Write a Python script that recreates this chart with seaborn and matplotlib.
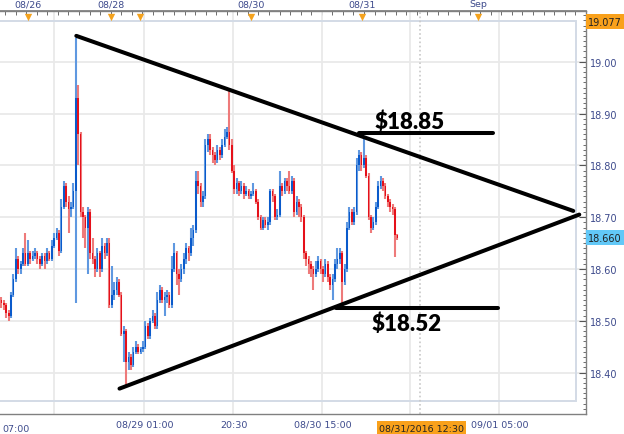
import matplotlib
matplotlib.use('Agg')
import matplotlib.pyplot as plt
import matplotlib.transforms as mtransforms
from matplotlib.patches import Rectangle
from matplotlib.ticker import MultipleLocator, FixedLocator
import seaborn as sns
import numpy as np
import pandas as pd

# 30-minute XAG/USD bars (open = previous close)
first_open = 18.54
closes = [
    18.535, 18.530, 18.515, 18.510, 18.550, 18.580, 18.620, 18.600, 18.610, 18.630,
    18.610, 18.630, 18.620, 18.625, 18.630, 18.620, 18.610, 18.625, 18.615, 18.630,
    18.620, 18.645, 18.660, 18.670, 18.635, 18.720, 18.760, 18.730, 18.715, 18.720,
    18.750, 18.930, 18.860, 18.710, 18.700, 18.680, 18.710, 18.630, 18.620, 18.600,
    18.630, 18.600, 18.645, 18.630, 18.650, 18.530, 18.550, 18.560, 18.575, 18.550,
    18.475, 18.480, 18.420, 18.430, 18.415, 18.440, 18.450, 18.440, 18.445, 18.450,
    18.490, 18.470, 18.500, 18.510, 18.490, 18.540, 18.560, 18.540, 18.545, 18.550,
    18.530, 18.600, 18.630, 18.590, 18.580, 18.600, 18.620, 18.640, 18.630, 18.660,
    18.675, 18.770, 18.760, 18.730, 18.740, 18.840, 18.850, 18.830, 18.820, 18.810,
    18.830, 18.820, 18.840, 18.855, 18.865, 18.840, 18.790, 18.755, 18.765, 18.750,
    18.760, 18.745, 18.750, 18.740, 18.745, 18.750, 18.730, 18.700, 18.680, 18.695,
    18.685, 18.690, 18.750, 18.740, 18.700, 18.705, 18.760, 18.750, 18.770, 18.760,
    18.750, 18.770, 18.710, 18.730, 18.720, 18.700, 18.630, 18.620, 18.610, 18.600,
    18.590, 18.600, 18.615, 18.600, 18.590, 18.610, 18.585, 18.570, 18.580, 18.610,
    18.620, 18.630, 18.575, 18.600, 18.680, 18.710, 18.690, 18.710, 18.800, 18.820,
    18.800, 18.815, 18.780, 18.700, 18.680, 18.690, 18.720, 18.760, 18.770, 18.760,
    18.740, 18.730, 18.720, 18.715, 18.665, 18.660,
]
highs = [
    18.545, 18.540, 18.535, 18.520, 18.555, 18.590, 18.640, 18.625, 18.615, 18.640,
    18.670, 18.655, 18.635, 18.635, 18.640, 18.635, 18.625, 18.630, 18.630, 18.640,
    18.635, 18.655, 18.670, 18.680, 18.675, 18.735, 18.770, 18.765, 18.740, 18.730,
    18.765, 19.045, 18.955, 18.865, 18.720, 18.705, 18.720, 18.715, 18.660, 18.625,
    18.640, 18.635, 18.660, 18.650, 18.660, 18.660, 18.605, 18.575, 18.585, 18.580,
    18.555, 18.490, 18.485, 18.440, 18.435, 18.450, 18.460, 18.455, 18.450, 18.460,
    18.500, 18.495, 18.505, 18.520, 18.515, 18.555, 18.570, 18.565, 18.555, 18.560,
    18.555, 18.625, 18.650, 18.635, 18.600, 18.610, 18.630, 18.650, 18.645, 18.680,
    18.685, 18.790, 18.790, 18.765, 18.750, 18.850, 18.860, 18.860, 18.835, 18.825,
    18.840, 18.835, 18.850, 18.870, 18.875, 18.944, 18.850, 18.800, 18.775, 18.770,
    18.770, 18.765, 18.760, 18.755, 18.750, 18.765, 18.755, 18.735, 18.705, 18.700,
    18.700, 18.700, 18.755, 18.755, 18.745, 18.715, 18.790, 18.765, 18.775, 18.775,
    18.790, 18.780, 18.775, 18.740, 18.735, 18.725, 18.705, 18.635, 18.625, 18.615,
    18.605, 18.615, 18.625, 18.620, 18.605, 18.620, 18.615, 18.590, 18.590, 18.620,
    18.640, 18.640, 18.635, 18.610, 18.690, 18.720, 18.715, 18.720, 18.815, 18.830,
    18.825, 18.855, 18.820, 18.785, 18.705, 18.700, 18.730, 18.770, 18.780, 18.775,
    18.765, 18.745, 18.735, 18.725, 18.720, 18.668,
]
lows = [
    18.525, 18.520, 18.505, 18.500, 18.505, 18.545, 18.575, 18.590, 18.590, 18.605,
    18.605, 18.605, 18.610, 18.615, 18.620, 18.610, 18.600, 18.605, 18.600, 18.610,
    18.615, 18.615, 18.640, 18.655, 18.625, 18.630, 18.715, 18.720, 18.670, 18.700,
    18.715, 18.535, 18.800, 18.700, 18.660, 18.640, 18.590, 18.620, 18.610, 18.585,
    18.595, 18.585, 18.595, 18.620, 18.625, 18.525, 18.525, 18.540, 18.550, 18.545,
    18.470, 18.420, 18.374, 18.405, 18.405, 18.410, 18.435, 18.435, 18.435, 18.440,
    18.445, 18.465, 18.465, 18.495, 18.485, 18.485, 18.535, 18.535, 18.510, 18.535,
    18.525, 18.525, 18.595, 18.570, 18.550, 18.575, 18.590, 18.610, 18.615, 18.625,
    18.645, 18.670, 18.745, 18.720, 18.720, 18.735, 18.825, 18.820, 18.805, 18.800,
    18.805, 18.810, 18.815, 18.835, 18.850, 18.830, 18.785, 18.745, 18.745, 18.740,
    18.745, 18.735, 18.740, 18.735, 18.735, 18.740, 18.725, 18.695, 18.675, 18.675,
    18.680, 18.675, 18.685, 18.730, 18.695, 18.695, 18.700, 18.740, 18.745, 18.750,
    18.745, 18.745, 18.700, 18.705, 18.700, 18.690, 18.620, 18.605, 18.590, 18.585,
    18.560, 18.585, 18.595, 18.590, 18.575, 18.585, 18.575, 18.560, 18.540, 18.575,
    18.600, 18.610, 18.530, 18.570, 18.595, 18.675, 18.685, 18.685, 18.705, 18.790,
    18.790, 18.795, 18.775, 18.695, 18.670, 18.675, 18.685, 18.715, 18.755, 18.750,
    18.735, 18.720, 18.710, 18.705, 18.624, 18.655,
]

# annotation lines (bar index, price)
upper_trend_x = [31.2, 238.3]
upper_trend_y = [19.050, 18.712]
lower_trend_x = [49.2, 240.8]
lower_trend_y = [18.369, 18.705]
resist_x = [149.2, 205.0]
resist_y = 18.863
support_x = [139.6, 207.0]
support_y = 18.525

# axis labels
price_ticks = [18.40, 18.50, 18.60, 18.70, 18.80, 18.90, 19.00]
bottom_tick_pos = [22.1, 59.6, 96.7, 133.75, 170.4, 207.5]
bottom_tick_labels = ["", "08/29 01:00", "20:30", "08/30 15:00", "", "09/01 05:00"]
day_pos = [11.25, 45.8, 57.9, 104.2, 150.4, 198.75]
day_labels = ["08/26", "08/28", "", "08/30", "08/31", "Sep"]

df = pd.DataFrame({"close": closes, "high": highs, "low": lows})
df["open"] = [first_open] + closes[:-1]
df["bar"] = np.arange(len(df))
up = df["close"] >= df["open"]

sns.set_theme(style="white")
plt.rcParams["font.family"] = ["DejaVu Sans"]

fig = plt.figure(figsize=(6.24, 4.35), dpi=100)
ax = fig.add_axes([0, 20 / 435, 586 / 624, 403 / 435])
ax.set_xlim(-0.6, 243.6)
ax.set_ylim(18.320, 19.098)

label_col = "#3d4a8c"
axis_col = "#808080"

# grid + inner frame
ax.set_yticks(price_ticks)
ax.set_xticks(bottom_tick_pos, bottom_tick_labels)
ax.grid(True, which="major", color="#e9e9e9", lw=1.3)
ax.add_patch(Rectangle((-0.02, 13 / 403), 576 / 586 + 0.02, (393 - 13) / 403,
                       transform=ax.transAxes, fill=False, ec="#d3dbe6", lw=1.4, zorder=1))
ax.axvline(174.6, color="#c8c8c8", ls=(0, (1, 1.5)), lw=1.2, zorder=1)

# candles
wick_col = np.where(up, "#5f98e0", "#ee7a7a")
body_col = np.where(up, "#0a5acb", "#e5101a")
ax.vlines(df["bar"], df["low"], df["high"], colors=wick_col, lw=1.5, zorder=2)
body_h = (df["close"] - df["open"]).abs().clip(lower=0.003)
body_b = df[["open", "close"]].min(axis=1)
ax.bar(df["bar"], body_h, bottom=body_b, width=0.72, color=body_col, lw=0, zorder=3)

# trendlines and levels
lw_tl = 2.9
sns.lineplot(x=upper_trend_x, y=upper_trend_y, ax=ax, color="black", lw=lw_tl, zorder=4)
sns.lineplot(x=lower_trend_x, y=lower_trend_y, ax=ax, color="black", lw=lw_tl, zorder=4)
sns.lineplot(x=resist_x, y=[resist_y, resist_y], ax=ax, color="black", lw=lw_tl, zorder=4)
sns.lineplot(x=support_x, y=[support_y, support_y], ax=ax, color="black", lw=lw_tl, zorder=4)
ax.text(170.0, 18.886, "$18.85", fontsize=16, fontweight="heavy", family=["Lato", "DejaVu Sans"],
        ha="center", va="center", color="black", zorder=5)
ax.text(168.8, 18.496, "$18.52", fontsize=16, fontweight="heavy", family=["Lato", "DejaVu Sans"],
        ha="center", va="center", color="black", zorder=5)

# spines
ax.spines["left"].set_visible(False)
for s in ["top", "right", "bottom"]:
    ax.spines[s].set_color(axis_col)
    ax.spines[s].set_linewidth(1.0)

# right price axis
ax.yaxis.tick_right()
ax.yaxis.set_major_formatter(matplotlib.ticker.FormatStrFormatter("%.2f"))
ax.yaxis.set_minor_locator(MultipleLocator(0.01))
ax.tick_params(axis="y", which="major", direction="in", length=5, width=0.8, color="#555555",
               labelsize=7, labelcolor=label_col, pad=3)
ax.tick_params(axis="y", which="minor", direction="in", length=2.5, width=0.6, color="#555555", right=True)

# bottom time axis
ax.xaxis.set_minor_locator(FixedLocator(np.arange(22.1 - 37 / 8 * 4, 244, 37 / 8)))
ax.tick_params(axis="x", which="major", direction="in", length=6, width=0.8, color="#555555",
               labelsize=6.8, labelcolor=label_col, pad=4)
ax.tick_params(axis="x", which="minor", direction="in", length=3, width=0.6, color="#555555")
bx = mtransforms.blended_transform_factory(ax.transData, ax.transAxes)
ax.text(6.25, -0.025, "07:00", transform=bx, ha="center", va="top", fontsize=6.8, color=label_col)
ax.text(175.0, -0.024, "08/31/2016 12:30", transform=bx, ha="center", va="top", fontsize=6.8,
        color="#222222", bbox=dict(boxstyle="square,pad=0.25", fc="#f9a11b", ec="none"))

# top day axis
top = ax.secondary_xaxis("top")
top.set_xticks(np.arange(1.5, 244, 4.4), [])
top.tick_params(axis="x", direction="in", length=3, width=0.6, color="#555555")
top.spines["top"].set_color(axis_col)
for p, lab in zip(day_pos, day_labels):
    ax.text(p, 1.018, lab, transform=bx, ha="center", va="center", fontsize=6.8, color=label_col)
ax.scatter(day_pos, [0.986] * len(day_pos), transform=bx, marker="v", s=28, color="#f4a21d",
           clip_on=False, zorder=6, lw=0)

# price flags on the right
by = mtransforms.blended_transform_factory(ax.transAxes, ax.transData)
ax.text(1.004, 19.077, "19.077", transform=by, ha="left", va="center", fontsize=7, color="#222222",
        bbox=dict(boxstyle="square,pad=0.25", fc="#f9a11b", ec="none"))
ax.text(1.004, 18.660, "18.660", transform=by, ha="left", va="center", fontsize=7, color="#222222",
        bbox=dict(boxstyle="square,pad=0.25", fc="#62c8f7", ec="none"))

fig.savefig("out.png", dpi=100)
plt.close(fig)
